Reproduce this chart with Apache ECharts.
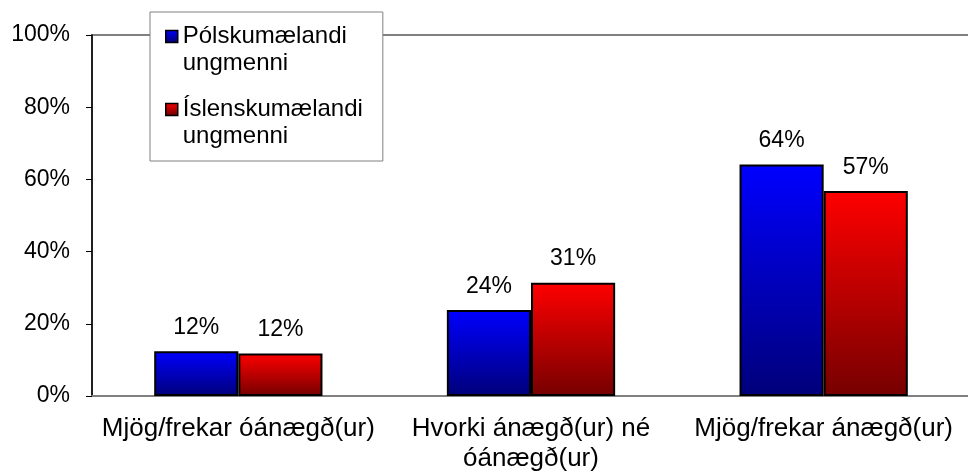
<!DOCTYPE html>
<html>
<head>
<meta charset="utf-8">
<script src="https://cdn.jsdelivr.net/npm/echarts@6/dist/echarts.min.js"></script>
<style>
  html, body { margin: 0; padding: 0; background: #fff; }
  #main { width: 968px; height: 471px; }
</style>
</head>
<body>
<div id="main"></div>
<script>
// flokkar og gögn
var categories = ['Mjög/frekar óánægð(ur)', 'Hvorki ánægð(ur) né\nóánægð(ur)', 'Mjög/frekar ánægð(ur)'];
var names = ['Pólskumælandi\nungmenni', 'Íslenskumælandi\nungmenni'];
var polskData = [12.4, 23.8, 64.1];
var islData = [11.8, 31.4, 56.8];
var yTicks = [0, 20, 40, 60, 80, 100];

var font = "'Liberation Sans', Arial, sans-serif";

function grad(top, bottom, y2) {
	return new echarts.graphic.LinearGradient(0, 0, 0, y2 || 1, [
		{offset: 0, color: top},
		{offset: 1, color: bottom}
	]);
}

var blueTop = '#0000ff', blueBot = '#00007a';
var redTop = '#ff0000', redBot = '#760000';

// tákn i skýringu: ferningur efst, ósýnilegur punktur neðst svo að ferningurinn sitji við fyrstu línu
var legendIcon = 'path://M0,0h12v12h-12zM0,39';

var chart = echarts.init(document.getElementById('main'));

var option = {
	animation: false,
	backgroundColor: '#fff',
	textStyle: {fontFamily: font},
	grid: {
		left: 92,
		right: -2,
		top: 35,
		bottom: 75,
		outerBoundsMode: 'none',
		show: true,
		borderColor: '#808080',
		borderWidth: 2
	},
	legend: {
		orient: 'vertical',
		left: 150,
		top: 12,
		padding: [11, 20, 11, 15],
		backgroundColor: '#fff',
		borderColor: '#808080',
		borderWidth: 1,
		itemWidth: 12,
		itemHeight: 39,
		itemGap: 19,
		icon: legendIcon,
		textStyle: {
			fontFamily: font,
			fontSize: 24,
			lineHeight: 27,
			color: '#000'
		},
		data: [{
			name: names[0],
			itemStyle: {color: grad(blueTop, blueBot, 0.3), borderColor: '#000', borderWidth: 1.5}
		}, {
			name: names[1],
			itemStyle: {color: grad(redTop, redBot, 0.3), borderColor: '#000', borderWidth: 1.5}
		}]
	},
	xAxis: {
		type: 'category',
		data: categories,
		axisLine: {lineStyle: {color: '#808080', width: 2}},
		axisTick: {show: false},
		axisLabel: {
			color: '#000',
			fontFamily: font,
			fontSize: 26,
			lineHeight: 30,
			margin: 18,
			interval: 0
		}
	},
	yAxis: {
		type: 'value',
		min: yTicks[0],
		max: yTicks[yTicks.length - 1],
		interval: yTicks[1] - yTicks[0],
		splitLine: {show: false},
		axisLine: {show: true, lineStyle: {color: '#000', width: 1.5}},
		axisTick: {show: true, length: 6, lineStyle: {color: '#000', width: 1}},
		axisLabel: {
			color: '#000',
			fontFamily: font,
			fontSize: 23,
			margin: 22,
			formatter: '{value}%'
		}
	},
	series: [{
		name: names[0],
		type: 'bar',
		data: polskData,
		barGap: '0%',
		barCategoryGap: '42.5%',
		itemStyle: {color: grad(blueTop, blueBot), borderColor: '#000', borderWidth: 2},
		label: {
			show: true,
			position: 'top',
			distance: 12,
			color: '#000',
			fontFamily: font,
			fontSize: 23,
			formatter: function (p) { return Math.round(p.value) + '%'; }
		}
	}, {
		name: names[1],
		type: 'bar',
		data: islData,
		barGap: '0%',
		barCategoryGap: '42.5%',
		itemStyle: {color: grad(redTop, redBot), borderColor: '#000', borderWidth: 2},
		label: {
			show: true,
			position: 'top',
			distance: 12,
			color: '#000',
			fontFamily: font,
			fontSize: 23,
			formatter: function (p) { return Math.round(p.value) + '%'; }
		}
	}]
};

chart.setOption(option);
</script>
</body>
</html>
